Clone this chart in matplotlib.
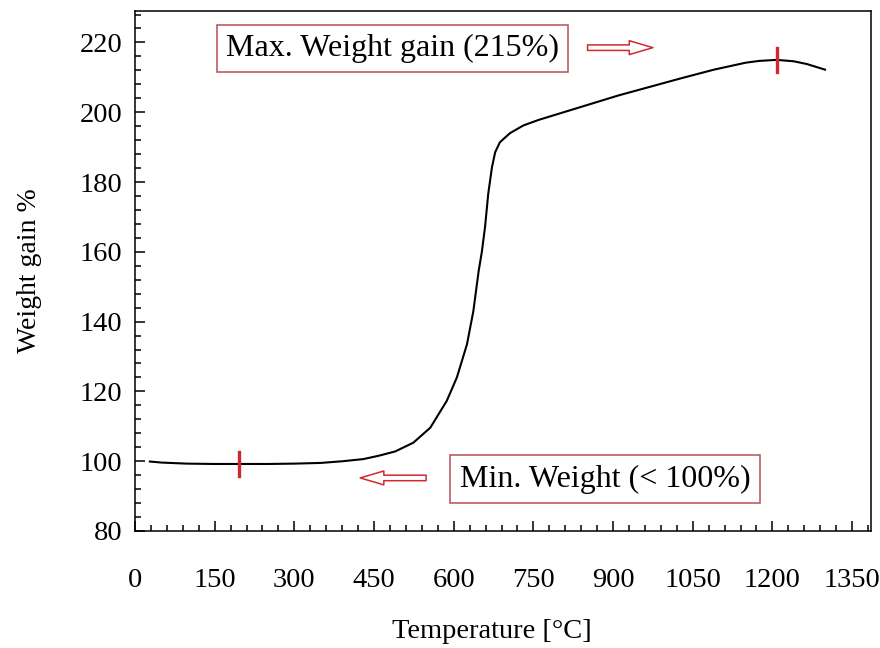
import matplotlib
matplotlib.use("Agg")
import matplotlib.pyplot as plt
from matplotlib.ticker import MultipleLocator

plt.rcParams['font.family'] = ['Liberation Serif', 'DejaVu Serif']

# TGA-style weight gain curve (temperature in degC, weight in %)
temperature = [28, 50, 97, 150, 200, 250, 300, 350, 392, 430, 460, 490, 524,
               556, 587, 606, 625, 637, 647, 653, 659, 665, 672, 678, 687,
               706, 731, 760, 790, 850, 910, 970, 1030, 1090, 1150, 1175,
               1208, 1240, 1265, 1299]
weight_gain = [99.9, 99.6, 99.3, 99.2, 99.2, 99.2, 99.3, 99.5, 100.0, 100.6,
               101.6, 102.8, 105.3, 109.6, 117.3, 124.0, 133.5, 143.0, 154.5,
               160.0, 167.1, 176.6, 184.2, 188.5, 191.4, 194.0, 196.2, 197.8,
               199.2, 202.0, 204.8, 207.3, 209.8, 212.2, 214.2, 214.7, 215.0,
               214.6, 213.8, 212.2]

x_ticks = [0, 150, 300, 450, 600, 750, 900, 1050, 1200, 1350]
y_ticks = [80, 100, 120, 140, 160, 180, 200, 220]

min_label = "Min. Weight (< 100%)"
max_label = "Max. Weight gain (215%)"
min_temp = 195
max_temp = 1208

red = "#d0282e"
box_edge = "#b4505a"

fig = plt.figure(figsize=(8.8, 6.48), dpi=100)
ax = fig.add_axes([0.1534, 0.1806, 0.8360, 0.8024])

ax.plot(temperature, weight_gain, color="black", lw=1.5)

# red markers at the minimum and the maximum of the curve
w_min = weight_gain[temperature.index(250)]
w_max = max(weight_gain)
ax.plot([min_temp, min_temp], [w_min - 3.4, w_min + 3.4], color=red, lw=2.4)
ax.plot([max_temp, max_temp], [w_max - 3.4, w_max + 3.4], color=red, lw=2.4)

ax.set_xlim(0, 1385)
ax.set_ylim(80, 229)
ax.set_xticks(x_ticks)
ax.set_yticks(y_ticks)
ax.xaxis.set_minor_locator(MultipleLocator(30))
ax.yaxis.set_minor_locator(MultipleLocator(4))
ax.tick_params(axis="both", which="both", direction="in", top=False, right=False,
               labelsize=20.5, width=1.1)
ax.tick_params(axis="both", which="major", length=7)
ax.tick_params(axis="both", which="minor", length=4)
ax.tick_params(axis="x", pad=27)
ax.tick_params(axis="y", pad=9)
for s in ax.spines.values():
    s.set_linewidth(1.1)

ax.set_xlabel("Temperature [°C]", fontsize=20.5)
ax.set_ylabel("Weight gain %", fontsize=20)
ax.xaxis.set_label_coords(0.485, -0.193)
ax.xaxis.label.set_va("center")
ax.yaxis.set_label_coords(-0.143, 0.5)
ax.yaxis.label.set_va("center")

# boxed notes
ax.text(484, 218.3, max_label, fontsize=23, ha="center", va="center",
        bbox=dict(boxstyle="square,pad=0.28", fc="white", ec=box_edge, lw=1.1))
ax.text(885, 94.9, min_label, fontsize=23, ha="center", va="center",
        bbox=dict(boxstyle="square,pad=0.3", fc="white", ec=box_edge, lw=1.1))

arrow_style = "simple,head_length=0.85,head_width=0.5,tail_width=0.2"
ax.annotate("", xy=(975, 218.5), xytext=(852, 218.5),
            arrowprops=dict(arrowstyle=arrow_style, mutation_scale=20,
                            fc="white", ec=red, lw=1.1, shrinkA=0, shrinkB=0))
ax.annotate("", xy=(424, 95.2), xytext=(548, 95.2),
            arrowprops=dict(arrowstyle=arrow_style, mutation_scale=20,
                            fc="white", ec=red, lw=1.1, shrinkA=0, shrinkB=0))

fig.savefig("out.png", dpi=100)
